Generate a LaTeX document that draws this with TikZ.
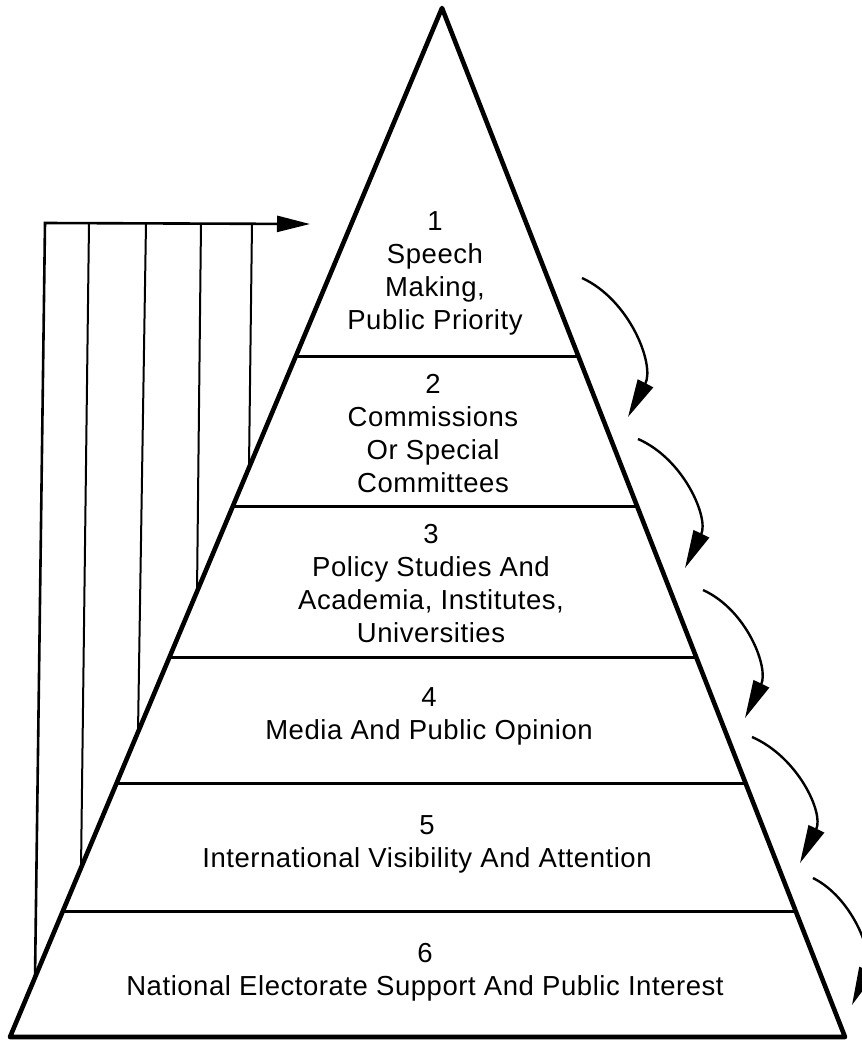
\documentclass[tikz,border=0pt]{standalone}
\usepackage{fontspec}
\setmainfont{Liberation Sans}
\newfontfamily\pyrfont{Liberation Sans}[LetterSpace=2]
\usetikzlibrary{arrows.meta,calc}
\begin{document}
\begin{tikzpicture}[x=1pt,y=-1pt,
  side/.style={line width=4.6pt, line join=round},
  sepline/.style={line width=3pt},
  feedline/.style={line width=2pt},
  feedarrow/.style={line width=2.6pt, line join=miter, -{Triangle[length=33pt,width=16pt]}},
  flowarrow/.style={line width=2.4pt, -{Triangle[length=38pt,width=17pt]}},
  lvltext/.style={align=center, inner sep=0pt, font=\pyrfont\fontsize{27.5}{33}\selectfont}
]
\useasboundingbox (0,0) rectangle (862,1047);

% pyramid
\coordinate (apex) at (442,8);
\coordinate (bl) at (10,1037);
\coordinate (br) at (845,1037);
\draw[side] (bl) -- (apex) -- (br) -- cycle;

% level separators
\foreach \t [count=\i] in {0.3382,0.4849,0.6307,0.7541,0.8785} {
  \coordinate (sl\i) at ($(apex)!\t!(bl)$);
  \coordinate (sr\i) at ($(apex)!\t!(br)$);
}
\foreach \i in {1,...,5} \draw[sepline] (sl\i) -- (sr\i);

% level texts
\node[lvltext] (l1) at (435,273) {1\\Speech\\Making,\\Public Priority};
\node[lvltext] (l2) at (433,434) {2\\Commissions\\Or Special\\Committees};
\node[lvltext] (l3) at (431,584) {3\\Policy Studies And\\Academia, Institutes,\\Universities};
\node[lvltext] (l4) at (429,716) {4\\Media And Public Opinion};
\node[lvltext] (l5) at (427,844) {5\\International Visibility And Attention};
\node[lvltext] (l6) at (425,972) {6\\National Electorate Support And Public Interest};

% feedback lines to level 1
\coordinate (h1) at (45,223);
\coordinate (h2) at (89,223);
\coordinate (h3) at (146,223);
\coordinate (h4) at (201,223);
\coordinate (h5) at (252,223);
\coordinate (tip) at (310,224);
\foreach \t [count=\i] in {0.9421,0.8356,0.7037,0.5671,0.4468} {
  \coordinate (f\i) at ($(apex)!\t!(bl)$);
}
\draw[feedarrow] (f1) -- (h1) -- (tip);
\foreach \i in {2,...,5} \draw[feedline] (f\i) -- (h\i);

% downward flow arrows
\coordinate (a1s) at (582,278); \coordinate (a1e) at (628,417);
\coordinate (a2s) at (638,439); \coordinate (a2e) at (685,568);
\coordinate (a3s) at (703,590); \coordinate (a3e) at (745,718);
\coordinate (a4s) at (752,737); \coordinate (a4e) at (800,863);
\coordinate (a5s) at (813,878); \coordinate (a5e) at (852,1005);
\draw[flowarrow] (a1s) .. controls +(48,22) and +(27,-52) .. (a1e);
\draw[flowarrow] (a2s) .. controls +(46,20) and +(24,-50) .. (a2e);
\draw[flowarrow] (a3s) .. controls +(44,20) and +(24,-50) .. (a3e);
\draw[flowarrow] (a4s) .. controls +(46,20) and +(24,-50) .. (a4e);
\draw[flowarrow] (a5s) .. controls +(40,20) and +(22,-50) .. (a5e);
\end{tikzpicture}
\end{document}
